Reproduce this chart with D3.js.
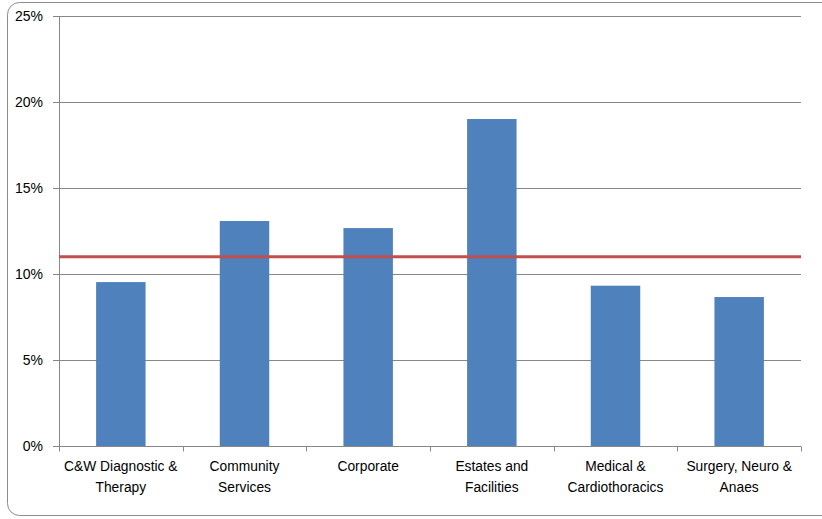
<!DOCTYPE html>
<html>
<head>
    <title>Bar Chart</title>
    <script src="https://d3js.org/d3.v7.min.js"></script>
    <style>
        body { margin: 0; background: #fff; }
        text { font-family: "Liberation Sans", Arial, sans-serif; fill: #000; }
        .grid line { stroke: #878787; stroke-width: 1px; }
    </style>
</head>
<body>
    <script>
        var categories = [
            ["C&W Diagnostic &", "Therapy"],
            ["Community", "Services"],
            ["Corporate"],
            ["Estates and", "Facilities"],
            ["Medical &", "Cardiothoracics"],
            ["Surgery, Neuro &", "Anaes"]
        ];
        var values = [0.0953, 0.1308, 0.1267, 0.1901, 0.0932, 0.0866];
        var target = 0.11;
        var yTicks = [0, 0.05, 0.10, 0.15, 0.20, 0.25];

        var width = 822, height = 519;
        var margin = {left: 59, right: 21, top: 16, bottom: 73};

        var svg = d3.select("body").append("svg")
            .attr("width", width)
            .attr("height", height);

        svg.append("rect")
            .attr("x", 7.5).attr("y", 2.5)
            .attr("width", 830).attr("height", 513)
            .attr("rx", 12)
            .attr("fill", "#fff")
            .attr("stroke", "#8c8c8c");

        var x = d3.scaleBand()
            .domain(d3.range(categories.length))
            .range([margin.left, width - margin.right])
            .paddingInner(0.6).paddingOuter(0.3);

        var y = d3.scaleLinear()
            .domain([0, 0.25])
            .range([height - margin.bottom, margin.top]);

        // gridlines
        var grid = svg.append("g").attr("class", "grid");
        grid.selectAll("line")
            .data(yTicks.slice(1))
            .enter().append("line")
            .attr("x1", margin.left - 6)
            .attr("x2", width - margin.right)
            .attr("y1", function(d) { return Math.round(y(d)) + 0.5; })
            .attr("y2", function(d) { return Math.round(y(d)) + 0.5; });

        // y labels
        svg.selectAll(".ylab")
            .data(yTicks)
            .enter().append("text")
            .attr("class", "ylab")
            .attr("x", 43)
            .attr("y", function(d) { return y(d) + 5; })
            .attr("text-anchor", "end")
            .style("font-size", "14px")
            .text(d3.format(".0%"));

        // bars
        svg.selectAll(".bar")
            .data(values)
            .enter().append("rect")
            .attr("class", "bar")
            .attr("x", function(d, i) { return x(i); })
            .attr("width", x.bandwidth())
            .attr("y", function(d) { return y(d); })
            .attr("height", function(d) { return y(0) - y(d); })
            .attr("fill", "#4f81bd");

        // axes
        var step = (width - margin.right - margin.left) / categories.length;
        var y0 = Math.round(y(0)) + 0.5;
        svg.append("line")
            .attr("x1", margin.left - 6).attr("x2", width - margin.right)
            .attr("y1", y0).attr("y2", y0)
            .attr("stroke", "#878787");
        svg.append("line")
            .attr("x1", margin.left + 0.5).attr("x2", margin.left + 0.5)
            .attr("y1", y(0.25)).attr("y2", y0)
            .attr("stroke", "#878787");
        svg.selectAll(".xtick")
            .data(d3.range(categories.length + 1))
            .enter().append("line")
            .attr("x1", function(d) { return Math.round(margin.left + d * step) + 0.5; })
            .attr("x2", function(d) { return Math.round(margin.left + d * step) + 0.5; })
            .attr("y1", y0).attr("y2", y0 + 5)
            .attr("stroke", "#878787");

        // target line
        svg.append("line")
            .attr("x1", margin.left).attr("x2", width - margin.right)
            .attr("y1", y(target)).attr("y2", y(target))
            .attr("stroke", "#c0504d")
            .attr("stroke-width", 3);

        // category labels
        var lab = svg.selectAll(".xlab")
            .data(categories)
            .enter().append("text")
            .attr("class", "xlab")
            .attr("text-anchor", "middle")
            .style("font-size", "13.8px");
        lab.selectAll("tspan")
            .data(function(d, i) { return d.map(function(s) { return {s: s, i: i}; }); })
            .enter().append("tspan")
            .attr("x", function(d) { return x(d.i) + x.bandwidth() / 2; })
            .attr("y", function(d, j) { return 471 + j * 21; })
            .text(function(d) { return d.s; });
    </script>
</body>
</html>
